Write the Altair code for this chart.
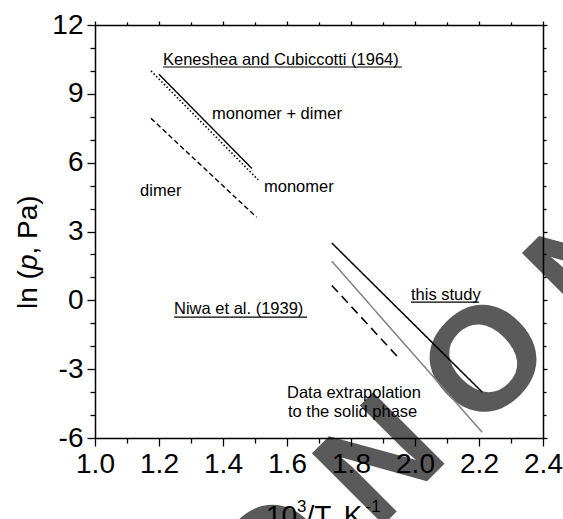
import altair as alt
import pandas as pd

FONT = "Liberation Sans"

# Vapour-pressure lines: every series is a straight segment between two points
series_names = ["monomer + dimer", "monomer", "dimer", "this study", "extrapolation", "Niwa et al."]
x_start = [1.20, 1.175, 1.175, 1.74, 1.74, 1.74]
x_end = [1.49, 1.51, 1.505, 2.21, 2.21, 1.945]
y_start = [9.85, 10.0, 7.93, 2.5, 1.7, 0.65]
y_end = [5.75, 5.25, 3.62, -4.0, -5.75, -2.45]

# In-plot annotations
note_text = ["Keneshea and Cubiccotti (1964)", "monomer + dimer", "monomer", "dimer",
             "Niwa et al. (1939)", "this study", "Data extrapolation", "to the solid phase"]
note_x = [1.2125, 1.366, 1.528, 1.141, 1.247, 1.9875, 1.60, 1.603]
note_y = [10.47, 8.12, 4.94, 4.76, -0.38, 0.23, -4.04, -4.87]

# Underlines below the source labels
underline_x = [1.2125, 1.247, 1.9875]
underline_x2 = [1.959, 1.6625, 2.20]
underline_y = [10.17, -0.73, -0.075]

# Diagonal watermark letters
mark_letters = ["O", "N", "O", "N"]
mark_x = [1.572, 1.900, 2.228, 2.556]
mark_y = [-11.45, -7.09, -2.73, 1.63]

# Tick positions (labels every 0.2 / every 3)
x_ticks = [1.0, 1.1, 1.2, 1.3, 1.4, 1.5, 1.6, 1.7, 1.8, 1.9, 2.0, 2.1, 2.2, 2.3, 2.4]
y_ticks = [-6, -5, -4, -3, -2, -1, 0, 1, 2, 3, 4, 5, 6, 7, 8, 9, 10, 11, 12]

# Line styles per series
styles = {
    "monomer + dimer": dict(color="#000000", dash=[1, 0], width=1.4),
    "monomer": dict(color="#000000", dash=[1.5, 2.2], width=1.6),
    "dimer": dict(color="#000000", dash=[5, 3], width=1.4),
    "this study": dict(color="#000000", dash=[1, 0], width=1.5),
    "extrapolation": dict(color="#808080", dash=[1, 0], width=1.5),
    "Niwa et al.": dict(color="#000000", dash=[9, 5.5], width=1.6),
}

lines = pd.DataFrame({"series": series_names, "x": x_start, "x2": x_end,
                      "y": y_start, "y2": y_end})
notes = pd.DataFrame({"text": note_text, "x": note_x, "y": note_y})
underlines = pd.DataFrame({"x": underline_x, "x2": underline_x2, "y": underline_y})
letters = pd.DataFrame({"letter": mark_letters, "x": mark_x, "y": mark_y})
one_row = pd.DataFrame({"k": [0]})

x_scale = alt.Scale(domain=[1.0, 2.4], nice=False, zero=False)
y_scale = alt.Scale(domain=[-6, 12], nice=False, zero=False)

x_major = "round(datum.value * 10) % 2 == 0"
y_major = "datum.value % 3 == 0"

common_axis = dict(grid=False, title=None, domainColor="black", domainWidth=1.5,
                   tickColor="black", tickWidth=1.3, labelColor="black",
                   labelFont=FONT, labelFontSize=28, labelOverlap=False,
                   labelFlush=False, zindex=1)

axis_bottom = alt.Axis(values=x_ticks, orient="bottom", labelPadding=4,
                       labelExpr=f"{x_major} ? format(datum.value, '.1f') : ''",
                       tickSize={"condition": {"test": x_major, "value": 8}, "value": 5},
                       **common_axis)
axis_left = alt.Axis(values=y_ticks, orient="left", labelPadding=4,
                     labelExpr=f"{y_major} ? '' + datum.value : ''",
                     tickSize={"condition": {"test": y_major, "value": 8}, "value": 5},
                     **common_axis)
axis_top = alt.Axis(values=x_ticks, orient="top", labels=False,
                    tickSize={"condition": {"test": x_major, "value": 4}, "value": 3},
                    **common_axis)
axis_right = alt.Axis(values=y_ticks, orient="right", labels=False,
                      tickSize={"condition": {"test": y_major, "value": 4}, "value": 3},
                      **common_axis)

# Watermark underneath everything, carrying the bottom/left axes
watermark = alt.Chart(letters).mark_text(
    font=FONT, fontSize=147, fontWeight="bold", color="#5a5a5a",
    angle=315, align="center", baseline="middle"
).encode(
    x=alt.X("x:Q", scale=x_scale, axis=axis_bottom),
    y=alt.Y("y:Q", scale=y_scale, axis=axis_left),
    text="letter:N",
)

layers = [watermark]

for i, name in enumerate(series_names):
    st = styles[name]
    ax_x = axis_top if i == 0 else None
    ax_y = axis_right if i == 0 else None
    layers.append(
        alt.Chart(lines).transform_filter(alt.datum.series == name).mark_rule(
            color=st["color"], strokeDash=st["dash"], strokeWidth=st["width"]
        ).encode(
            x=alt.X("x:Q", scale=x_scale, axis=ax_x),
            x2="x2:Q",
            y=alt.Y("y:Q", scale=y_scale, axis=ax_y),
            y2="y2:Q",
        )
    )

layers.append(
    alt.Chart(notes).mark_text(font=FONT, fontSize=16.5, color="black",
                               align="left", baseline="middle").encode(
        x=alt.X("x:Q", scale=x_scale, axis=None),
        y=alt.Y("y:Q", scale=y_scale, axis=None),
        text="text:N",
    )
)

layers.append(
    alt.Chart(underlines).mark_rule(color="black", strokeWidth=1.2).encode(
        x=alt.X("x:Q", scale=x_scale, axis=None),
        x2="x2:Q",
        y=alt.Y("y:Q", scale=y_scale, axis=None),
    )
)


def label_piece(text, px, py, size=28, style="normal", angle=0):
    return alt.Chart(one_row).mark_text(
        font=FONT, fontSize=size, fontStyle=style, color="black",
        align="left", baseline="alphabetic", angle=angle
    ).encode(x=alt.value(px), y=alt.value(py), text=alt.value(text))


# y-axis title: ln (p, Pa) with italic p, reading upwards
layers += [
    label_piece("ln (", -58, 284, angle=270),
    label_piece("p", -58, 245.1, style="italic", angle=270),
    label_piece(", Pa)", -58, 229.5, angle=270),
]

# x-axis title: 10^3/T, K^-1
layers += [
    label_piece("10", 171, 500),
    label_piece("3", 202, 487, size=17),
    label_piece("/T, K", 211.5, 500),
    label_piece("-1", 270.5, 487, size=17),
]

chart = alt.layer(*layers).resolve_axis(
    x="independent", y="independent"
).properties(
    width=448, height=413,
    autosize=alt.AutoSizeParams(type="none"),
    padding={"left": 95, "top": 25, "right": 20, "bottom": 81},
    background="white",
).configure_view(stroke=None)

chart.save("out.html", embed_options={"renderer": "svg", "actions": False})
